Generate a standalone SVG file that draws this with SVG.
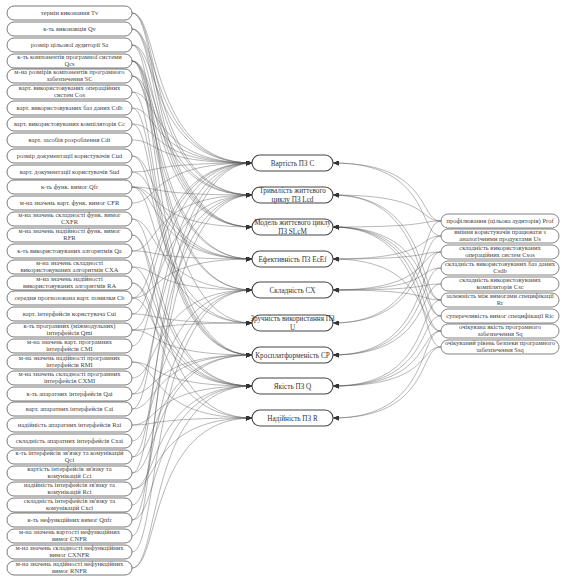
<svg xmlns="http://www.w3.org/2000/svg" width="562" height="576" viewBox="0 0 562 576">
<style>
.bg{fill:#fff}
.ln rect{fill:#fff;stroke:#6a6a6a;stroke-width:0.9}
.mn rect{fill:#fff;stroke:#444;stroke-width:1.1}
.rn rect{fill:#fff;stroke:#777;stroke-width:0.9}
text{font-family:"Liberation Serif","Times New Roman",serif;fill:#444;text-anchor:middle}
.ln text,.rn text{font-size:6.5px}
.mn text{font-size:7.2px;fill:#333}
#edges path{fill:none;stroke:#555;stroke-width:0.7;stroke-opacity:0.6;marker-end:url(#ah)}
</style>
<defs>
<marker id="ah" markerUnits="userSpaceOnUse" markerWidth="6" markerHeight="5" refX="6" refY="2.5" orient="auto"><path d="M0,0 L6,2.5 L0,5 z" fill="#333"/></marker>
</defs>
<rect class="bg" width="562" height="576"/>
<g id="edges">
<path d="M132,13 C160,13 148,163 252,163"/>
<path d="M132,29 C160,29 148,163 252,163"/>
<path d="M132,45 C160,45 148,163 252,163"/>
<path d="M132,92 C160,92 148,163 252,163"/>
<path d="M132,108 C160,108 148,163 252,163"/>
<path d="M132,124 C160,124 148,163 252,163"/>
<path d="M132,140 C160,140 148,163 252,163"/>
<path d="M132,172 C160,172 148,163 252,163"/>
<path d="M132,203 C160,203 148,163 252,163"/>
<path d="M132,298 C160,298 148,163 252,163"/>
<path d="M132,314 C160,314 148,163 252,163"/>
<path d="M132,346 C160,346 148,163 252,163"/>
<path d="M132,409 C160,409 148,163 252,163"/>
<path d="M132,473 C160,473 148,163 252,163"/>
<path d="M132,536 C160,536 148,163 252,163"/>
<path d="M132,13 C160,13 148,195 252,195"/>
<path d="M132,29 C160,29 148,195 252,195"/>
<path d="M132,61 C160,61 148,195 252,195"/>
<path d="M132,76 C160,76 148,195 252,195"/>
<path d="M132,187 C160,187 148,195 252,195"/>
<path d="M132,251 C160,251 148,195 252,195"/>
<path d="M132,330 C160,330 148,195 252,195"/>
<path d="M132,394 C160,394 148,195 252,195"/>
<path d="M132,457 C160,457 148,195 252,195"/>
<path d="M132,520 C160,520 148,195 252,195"/>
<path d="M132,13 C160,13 148,227 252,227"/>
<path d="M132,29 C160,29 148,227 252,227"/>
<path d="M132,45 C160,45 148,227 252,227"/>
<path d="M132,61 C160,61 148,227 252,227"/>
<path d="M132,187 C160,187 148,227 252,227"/>
<path d="M132,156 C160,156 148,259 252,259"/>
<path d="M132,172 C160,172 148,259 252,259"/>
<path d="M132,61 C160,61 148,259 252,259"/>
<path d="M132,76 C160,76 148,259 252,259"/>
<path d="M132,187 C160,187 148,259 252,259"/>
<path d="M132,251 C160,251 148,259 252,259"/>
<path d="M132,298 C160,298 148,259 252,259"/>
<path d="M132,61 C160,61 148,290 252,290"/>
<path d="M132,76 C160,76 148,290 252,290"/>
<path d="M132,219 C160,219 148,290 252,290"/>
<path d="M132,267 C160,267 148,290 252,290"/>
<path d="M132,378 C160,378 148,290 252,290"/>
<path d="M132,441 C160,441 148,290 252,290"/>
<path d="M132,505 C160,505 148,290 252,290"/>
<path d="M132,552 C160,552 148,290 252,290"/>
<path d="M132,45 C160,45 148,323 252,323"/>
<path d="M132,156 C160,156 148,323 252,323"/>
<path d="M132,187 C160,187 148,323 252,323"/>
<path d="M132,314 C160,314 148,323 252,323"/>
<path d="M132,330 C160,330 148,323 252,323"/>
<path d="M132,61 C160,61 148,355 252,355"/>
<path d="M132,92 C160,92 148,355 252,355"/>
<path d="M132,108 C160,108 148,355 252,355"/>
<path d="M132,124 C160,124 148,355 252,355"/>
<path d="M132,330 C160,330 148,355 252,355"/>
<path d="M132,394 C160,394 148,355 252,355"/>
<path d="M132,409 C160,409 148,355 252,355"/>
<path d="M132,457 C160,457 148,355 252,355"/>
<path d="M132,473 C160,473 148,355 252,355"/>
<path d="M132,219 C160,219 148,386 252,386"/>
<path d="M132,235 C160,235 148,386 252,386"/>
<path d="M132,267 C160,267 148,386 252,386"/>
<path d="M132,283 C160,283 148,386 252,386"/>
<path d="M132,298 C160,298 148,386 252,386"/>
<path d="M132,362 C160,362 148,386 252,386"/>
<path d="M132,425 C160,425 148,386 252,386"/>
<path d="M132,489 C160,489 148,386 252,386"/>
<path d="M132,568 C160,568 148,386 252,386"/>
<path d="M132,520 C160,520 148,386 252,386"/>
<path d="M132,235 C160,235 148,418 252,418"/>
<path d="M132,283 C160,283 148,418 252,418"/>
<path d="M132,362 C160,362 148,418 252,418"/>
<path d="M132,425 C160,425 148,418 252,418"/>
<path d="M132,489 C160,489 148,418 252,418"/>
<path d="M132,568 C160,568 148,418 252,418"/>
<path d="M441,221 C418,221 432,163 333,163"/>
<path d="M441,236 C418,236 432,163 333,163"/>
<path d="M441,300 C418,300 432,195 333,195"/>
<path d="M441,316 C418,316 432,195 333,195"/>
<path d="M441,221 C418,221 432,195 333,195"/>
<path d="M441,221 C418,221 432,227 333,227"/>
<path d="M441,300 C418,300 432,227 333,227"/>
<path d="M441,316 C418,316 432,227 333,227"/>
<path d="M441,331 C418,331 432,227 333,227"/>
<path d="M441,347 C418,347 432,227 333,227"/>
<path d="M441,236 C418,236 432,259 333,259"/>
<path d="M441,331 C418,331 432,259 333,259"/>
<path d="M441,252 C418,252 432,259 333,259"/>
<path d="M441,252 C418,252 432,290 333,290"/>
<path d="M441,268 C418,268 432,290 333,290"/>
<path d="M441,284 C418,284 432,290 333,290"/>
<path d="M441,300 C418,300 432,290 333,290"/>
<path d="M441,221 C418,221 432,323 333,323"/>
<path d="M441,236 C418,236 432,323 333,323"/>
<path d="M441,252 C418,252 432,355 333,355"/>
<path d="M441,268 C418,268 432,355 333,355"/>
<path d="M441,284 C418,284 432,355 333,355"/>
<path d="M441,331 C418,331 432,386 333,386"/>
<path d="M441,347 C418,347 432,386 333,386"/>
<path d="M441,316 C418,316 432,386 333,386"/>
<path d="M441,300 C418,300 432,386 333,386"/>
<path d="M441,347 C418,347 432,418 333,418"/>
<path d="M441,331 C418,331 432,418 333,418"/>
</g>
<g id="left-nodes">
<g id="Tv" class="ln"><rect x="7" y="6" width="125" height="14" rx="7"/><text x="69.5" y="15.2">термін виконання  Tv</text></g>
<g id="Qv" class="ln"><rect x="7" y="22" width="125" height="14" rx="7"/><text x="69.5" y="31.2">к-ть виконавців  Qv</text></g>
<g id="Sa" class="ln"><rect x="7" y="38" width="125" height="14" rx="7"/><text x="69.5" y="47.2">розмір цільової аудиторії  Sa</text></g>
<g id="Qcs" class="ln"><rect x="7" y="54" width="125" height="14" rx="7"/><text x="69.5" y="58.5">к-ть компонентів програмної системи</text><text x="69.5" y="66">Qcs</text></g>
<g id="SC" class="ln"><rect x="7" y="69" width="125" height="14" rx="7"/><text x="69.5" y="73.5">м-на розмірів компонентів програмного</text><text x="69.5" y="81">забезпечення  SC</text></g>
<g id="Cos" class="ln"><rect x="7" y="85" width="125" height="14" rx="7"/><text x="69.5" y="89.5">варт. використовуваних операційних</text><text x="69.5" y="97">систем  Cos</text></g>
<g id="Cdb" class="ln"><rect x="7" y="101" width="125" height="14" rx="7"/><text x="69.5" y="110.2">варт. використовуваних баз даних  Cdb</text></g>
<g id="Cc" class="ln"><rect x="7" y="117" width="125" height="14" rx="7"/><text x="69.5" y="126.2">варт. використовуваних компіляторів  Cc</text></g>
<g id="Cdt" class="ln"><rect x="7" y="133" width="125" height="14" rx="7"/><text x="69.5" y="142.2">варт. засобів розроблення  Cdt</text></g>
<g id="Cud" class="ln"><rect x="7" y="149" width="125" height="14" rx="7"/><text x="69.5" y="158.2">розмір документації користувачів  Cud</text></g>
<g id="Sud" class="ln"><rect x="7" y="165" width="125" height="14" rx="7"/><text x="69.5" y="174.2">варт. документації користувачів  Sud</text></g>
<g id="Qfr" class="ln"><rect x="7" y="180" width="125" height="14" rx="7"/><text x="69.5" y="189.2">к-ть функ. вимог  Qfr</text></g>
<g id="CFR" class="ln"><rect x="7" y="196" width="125" height="14" rx="7"/><text x="69.5" y="205.2">м-на значень варт. функ. вимог  CFR</text></g>
<g id="CXFR" class="ln"><rect x="7" y="212" width="125" height="14" rx="7"/><text x="69.5" y="216.5">м-на значень складності функ. вимог</text><text x="69.5" y="224">CXFR</text></g>
<g id="RFR" class="ln"><rect x="7" y="228" width="125" height="14" rx="7"/><text x="69.5" y="232.5">м-на значень надійності функ. вимог</text><text x="69.5" y="240">RFR</text></g>
<g id="Qa" class="ln"><rect x="7" y="244" width="125" height="14" rx="7"/><text x="69.5" y="253.2">к-ть використовуваних алгоритмів  Qa</text></g>
<g id="CXA" class="ln"><rect x="7" y="260" width="125" height="14" rx="7"/><text x="69.5" y="264.5">м-на значень складності</text><text x="69.5" y="272">використовуваних алгоритмів  CXA</text></g>
<g id="RA" class="ln"><rect x="7" y="276" width="125" height="14" rx="7"/><text x="69.5" y="280.5">м-на значень надійності</text><text x="69.5" y="288">використовуваних алгоритмів  RA</text></g>
<g id="Cb" class="ln"><rect x="7" y="291" width="125" height="14" rx="7"/><text x="69.5" y="300.2">середня прогнозована варт. помилки  Cb</text></g>
<g id="Cui" class="ln"><rect x="7" y="307" width="125" height="14" rx="7"/><text x="69.5" y="316.2">варт. інтерфейсів користувача  Cui</text></g>
<g id="Qmi" class="ln"><rect x="7" y="323" width="125" height="14" rx="7"/><text x="69.5" y="327.5">к-ть програмних (міжмодульних)</text><text x="69.5" y="335">інтерфейсів  Qmi</text></g>
<g id="CMI" class="ln"><rect x="7" y="339" width="125" height="14" rx="7"/><text x="69.5" y="343.5">м-на значень варт. програмних</text><text x="69.5" y="351">інтерфейсів  CMI</text></g>
<g id="RMI" class="ln"><rect x="7" y="355" width="125" height="14" rx="7"/><text x="69.5" y="359.5">м-на значень надійності програмних</text><text x="69.5" y="367">інтерфейсів  RMI</text></g>
<g id="CXMI" class="ln"><rect x="7" y="371" width="125" height="14" rx="7"/><text x="69.5" y="375.5">м-на значень складності програмних</text><text x="69.5" y="383">інтерфейсів  CXMI</text></g>
<g id="Qai" class="ln"><rect x="7" y="387" width="125" height="14" rx="7"/><text x="69.5" y="396.2">к-ть апаратних інтерфейсів  Qai</text></g>
<g id="Cai" class="ln"><rect x="7" y="402" width="125" height="14" rx="7"/><text x="69.5" y="411.2">варт. апаратних інтерфейсів Cai</text></g>
<g id="Rai" class="ln"><rect x="7" y="418" width="125" height="14" rx="7"/><text x="69.5" y="427.2">надійність апаратних інтерфейсів  Rai</text></g>
<g id="Cxai" class="ln"><rect x="7" y="434" width="125" height="14" rx="7"/><text x="69.5" y="443.2">складність апаратних інтерфейсів  Cxai</text></g>
<g id="Qci" class="ln"><rect x="7" y="450" width="125" height="14" rx="7"/><text x="69.5" y="454.5">к-ть інтерфейсів зв'язку та комунікацій</text><text x="69.5" y="462">Qci</text></g>
<g id="Cci" class="ln"><rect x="7" y="466" width="125" height="14" rx="7"/><text x="69.5" y="470.5">вартість інтерфейсів зв'язку та</text><text x="69.5" y="478">комунікацій  Cci</text></g>
<g id="Rci" class="ln"><rect x="7" y="482" width="125" height="14" rx="7"/><text x="69.5" y="486.5">надійність інтерфейсів зв'язку та</text><text x="69.5" y="494">комунікацій  Rci</text></g>
<g id="Cxci" class="ln"><rect x="7" y="498" width="125" height="14" rx="7"/><text x="69.5" y="502.5">складність інтерфейсів зв'язку та</text><text x="69.5" y="510">комунікацій  Cxci</text></g>
<g id="Qnfr" class="ln"><rect x="7" y="513" width="125" height="14" rx="7"/><text x="69.5" y="522.2">к-ть нефункційних вимог  Qnfr</text></g>
<g id="CNFR" class="ln"><rect x="7" y="529" width="125" height="14" rx="7"/><text x="69.5" y="533.5">м-на значень вартості нефункційних</text><text x="69.5" y="541">вимог  CNFR</text></g>
<g id="CXNFR" class="ln"><rect x="7" y="545" width="125" height="14" rx="7"/><text x="69.5" y="549.5">м-на значень складності нефункційних</text><text x="69.5" y="557">вимог  CXNFR</text></g>
<g id="RNFR" class="ln"><rect x="7" y="561" width="125" height="14" rx="7"/><text x="69.5" y="565.5">м-на значень надійності нефункційних</text><text x="69.5" y="573">вимог  RNFR</text></g>
</g>
<g id="mid-nodes">
<g id="C" class="mn"><rect x="252" y="155" width="81" height="16" rx="8"/><text x="292.5" y="165.5">Вартість ПЗ C</text></g>
<g id="Lcd" class="mn"><rect x="252" y="187" width="81" height="16" rx="8"/><text x="292.5" y="193.3">Тривалість життєвого</text><text x="292.5" y="201.5">циклу ПЗ Lcd</text></g>
<g id="SLcM" class="mn"><rect x="252" y="219" width="81" height="16" rx="8"/><text x="292.5" y="225.3">Модель життєвого циклу</text><text x="292.5" y="233.5">ПЗ SLcM</text></g>
<g id="EcEf" class="mn"><rect x="252" y="251" width="81" height="16" rx="8"/><text x="292.5" y="261.5">Ефективність ПЗ EcEf</text></g>
<g id="CX" class="mn"><rect x="252" y="282" width="81" height="16" rx="8"/><text x="292.5" y="292.5">Складність CX</text></g>
<g id="U" class="mn"><rect x="252" y="315" width="81" height="16" rx="8"/><text x="292.5" y="321.3">Зручність використання ПЗ</text><text x="292.5" y="329.5">U</text></g>
<g id="CP" class="mn"><rect x="252" y="347" width="81" height="16" rx="8"/><text x="292.5" y="357.5">Кросплатформеність CP</text></g>
<g id="Q" class="mn"><rect x="252" y="378" width="81" height="16" rx="8"/><text x="292.5" y="388.5">Якість ПЗ Q</text></g>
<g id="R" class="mn"><rect x="252" y="410" width="81" height="16" rx="8"/><text x="292.5" y="420.5">Надійність ПЗ R</text></g>
</g>
<g id="right-nodes">
<g id="Prof" class="rn"><rect x="441" y="214" width="118" height="14" rx="7"/><text x="500" y="223.2">профілювання (цільова аудиторія) Prof</text></g>
<g id="Us" class="rn"><rect x="441" y="229" width="118" height="14" rx="7"/><text x="500" y="233.5">вміння користувачів працювати з</text><text x="500" y="241">аналогічними продуктами  Us</text></g>
<g id="Csos" class="rn"><rect x="441" y="245" width="118" height="14" rx="7"/><text x="500" y="249.5">складність використовуваних</text><text x="500" y="257">операційних систем Csos</text></g>
<g id="Csdb" class="rn"><rect x="441" y="261" width="118" height="14" rx="7"/><text x="500" y="265.5">складність використовуваних баз даних</text><text x="500" y="273">Csdb</text></g>
<g id="Csc" class="rn"><rect x="441" y="277" width="118" height="14" rx="7"/><text x="500" y="281.5">складність використовуваних</text><text x="500" y="289">компіляторів  Csc</text></g>
<g id="Rr" class="rn"><rect x="441" y="293" width="118" height="14" rx="7"/><text x="500" y="297.5">залежність між вимогами специфікації</text><text x="500" y="305">Rr</text></g>
<g id="Ric" class="rn"><rect x="441" y="309" width="118" height="14" rx="7"/><text x="500" y="318.2">суперечливість вимог специфікації  Ric</text></g>
<g id="Sq" class="rn"><rect x="441" y="324" width="118" height="14" rx="7"/><text x="500" y="328.5">очікувана якість програмного</text><text x="500" y="336">забезпечення  Sq</text></g>
<g id="Ssq" class="rn"><rect x="441" y="340" width="118" height="14" rx="7"/><text x="500" y="344.5">очікуваний рівень безпеки програмного</text><text x="500" y="352">забезпечення  Ssq</text></g>
</g>
</svg>
